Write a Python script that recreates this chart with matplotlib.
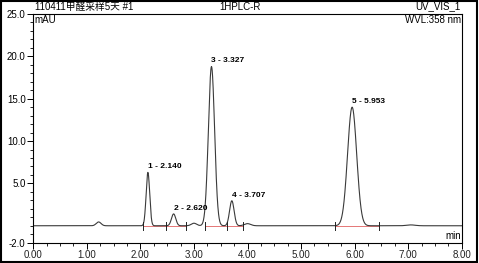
import numpy as np
import matplotlib
matplotlib.use("Agg")
import matplotlib.pyplot as plt
from matplotlib.patches import Rectangle
from matplotlib.ticker import MultipleLocator, FixedLocator, FormatStrFormatter

# ---- data ----
peak_numbers = [1, 2, 3, 4, 5]
peak_times = [2.140, 2.620, 3.327, 3.707, 5.953]      # min
peak_heights = [6.3, 1.4, 18.8, 2.95, 14.0]          # mAU
peak_sigmas = [0.033, 0.040, 0.058, 0.042, 0.085]    # min

minor_times = [1.22, 3.00, 4.00, 7.05]
minor_heights = [0.45, 0.30, 0.25, 0.10]
minor_sigmas = [0.045, 0.05, 0.06, 0.08]

marker_times = [2.05, 2.48, 2.86, 3.20, 3.61, 3.92, 5.63, 6.45]
integration_segments = [(2.05, 2.48), (2.48, 2.86), (3.20, 3.61), (3.61, 3.92), (5.63, 6.45)]

x_ticks = [0, 1, 2, 3, 4, 5, 6, 7, 8]
y_ticks = [-2, 5, 10, 15, 20, 25]

title_left = "110411甲醛采样5天 #1"
title_mid = "1HPLC-R"
title_right = "UV_VIS_1"

# ---- build trace from peak table ----
t = np.linspace(0, 8, 3000)
signal = np.zeros_like(t)
for tm, h, s in zip(peak_times + minor_times, peak_heights + minor_heights, peak_sigmas + minor_sigmas):
    signal += h * np.exp(-0.5 * ((t - tm) / s) ** 2)

fam = ["Liberation Sans", "Noto Sans CJK SC", "DejaVu Sans"]
plt.rcParams["font.family"] = fam

fig = plt.figure(figsize=(4.79, 2.63), dpi=100)
ax = fig.add_axes([0.0695, 0.0772, 0.8945, 0.8696])

for a, b in integration_segments:
    ax.plot([a, b], [0, 0], color="#e06060", lw=0.6, zorder=1)
ax.plot(t, signal, color="#3a3a3a", lw=0.8, zorder=2)
for m in marker_times:
    ax.plot([m, m], [-0.45, 0.45], color="#222222", lw=0.7, zorder=3)

for n, tm, h in zip(peak_numbers, peak_times, peak_heights):
    ax.text(tm, h + 0.25, f"{n} - {tm:.3f}", ha="left", va="bottom",
            fontsize=6, fontweight="bold", color="black")

ax.set_xlim(0, 8)
ax.set_ylim(-2, 25)
ax.xaxis.set_major_locator(FixedLocator(x_ticks))
ax.xaxis.set_minor_locator(MultipleLocator(0.25))
ax.yaxis.set_major_locator(FixedLocator(y_ticks))
ax.yaxis.set_minor_locator(MultipleLocator(1))
ax.xaxis.set_major_formatter(FormatStrFormatter("%.2f"))
ax.yaxis.set_major_formatter(FormatStrFormatter("%.1f"))
ax.tick_params(axis="both", which="major", labelsize=7, length=4, width=0.7, pad=1.5, colors="black")
ax.tick_params(axis="both", which="minor", length=2, width=0.6)
ax.tick_params(axis="x", labelcolor="#222222")
for sp in ax.spines.values():
    sp.set_linewidth(0.8)
    sp.set_color("black")

ax.text(0.03, 24.9, "mAU", ha="left", va="top", fontsize=7)
ax.text(7.98, 24.9, "WVL:358 nm", ha="right", va="top", fontsize=7)
ax.text(7.98, -1.8, "min", ha="right", va="bottom", fontsize=7)

fig.text(0.074, 0.975, title_left, ha="left", va="center", fontsize=7, family=fam)
fig.text(0.50, 0.975, title_mid, ha="center", va="center", fontsize=7)
fig.text(0.962, 0.975, title_right, ha="right", va="center", fontsize=7)

fig.patches.append(Rectangle((0.002, 0.004), 0.994, 0.992, transform=fig.transFigure,
                             fill=False, edgecolor="black", lw=1.5))

fig.savefig("out.png", dpi=100)
